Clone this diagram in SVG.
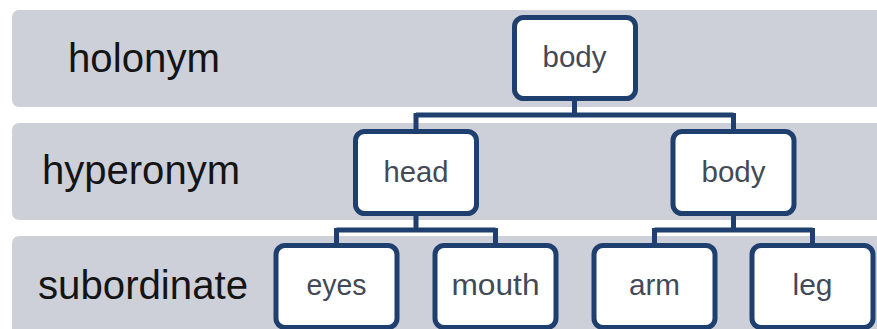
<svg xmlns="http://www.w3.org/2000/svg" width="877" height="329" viewBox="0 0 877 329">
<style>
.band{fill:#cdd0d8}
.lbl{font-family:"Liberation Sans",Arial,sans-serif;font-size:40px;fill:#141414}
.box{fill:#ffffff;stroke:#1f3f6e;stroke-width:5}
.nt{font-family:"Liberation Sans",Arial,sans-serif;font-size:30px;fill:#424a58;text-anchor:middle}
.conn{fill:none;stroke:#1f3f6e;stroke-width:5}
</style>
<rect width="877" height="329" fill="#ffffff"/>
<g id="bands">
<rect class="band" x="12" y="10" width="880" height="97" rx="7"/>
<rect class="band" x="12" y="123" width="880" height="97" rx="7"/>
<rect class="band" x="12" y="236" width="880" height="110" rx="7"/>
<text class="lbl" x="68" y="72" textLength="152" lengthAdjust="spacingAndGlyphs">holonym</text>
<text class="lbl" x="42" y="184" textLength="198" lengthAdjust="spacingAndGlyphs">hyperonym</text>
<text class="lbl" x="38" y="299" textLength="210" lengthAdjust="spacingAndGlyphs">subordinate</text>
</g>
<g id="connectors">
<path class="conn" d="M574.5,99 V115 M416,115 H733.5 M416,113 V131 M733.5,113 V131"/>
<path class="conn" d="M416,213 V230 M336.5,230 H495.5 M336.5,228 V245 M495.5,228 V245"/>
<path class="conn" d="M733.5,213 V230 M654.5,230 H812.5 M654.5,228 V245 M812.5,228 V245"/>
</g>
<g id="node-body-top">
<rect class="box" x="514.5" y="17.5" width="121" height="81" rx="9"/>
<text class="nt" x="574.5" y="67" textLength="64" lengthAdjust="spacingAndGlyphs">body</text>
</g>
<g id="node-head">
<rect class="box" x="355.5" y="131.5" width="121" height="82" rx="9"/>
<text class="nt" x="416" y="182" textLength="65" lengthAdjust="spacingAndGlyphs">head</text>
</g>
<g id="node-body">
<rect class="box" x="673" y="131.5" width="121" height="82" rx="9"/>
<text class="nt" x="733.5" y="182" textLength="64" lengthAdjust="spacingAndGlyphs">body</text>
</g>
<g id="node-eyes">
<rect class="box" x="276" y="245.5" width="121" height="82" rx="9"/>
<text class="nt" x="336.5" y="295" textLength="60" lengthAdjust="spacingAndGlyphs">eyes</text>
</g>
<g id="node-mouth">
<rect class="box" x="435" y="245.5" width="121" height="82" rx="9"/>
<text class="nt" x="495.5" y="295" textLength="88" lengthAdjust="spacingAndGlyphs">mouth</text>
</g>
<g id="node-arm">
<rect class="box" x="594" y="245.5" width="121" height="82" rx="9"/>
<text class="nt" x="654.5" y="295" textLength="51" lengthAdjust="spacingAndGlyphs">arm</text>
</g>
<g id="node-leg">
<rect class="box" x="752" y="245.5" width="121" height="82" rx="9"/>
<text class="nt" x="812.5" y="295" textLength="40" lengthAdjust="spacingAndGlyphs">leg</text>
</g>
</svg>
